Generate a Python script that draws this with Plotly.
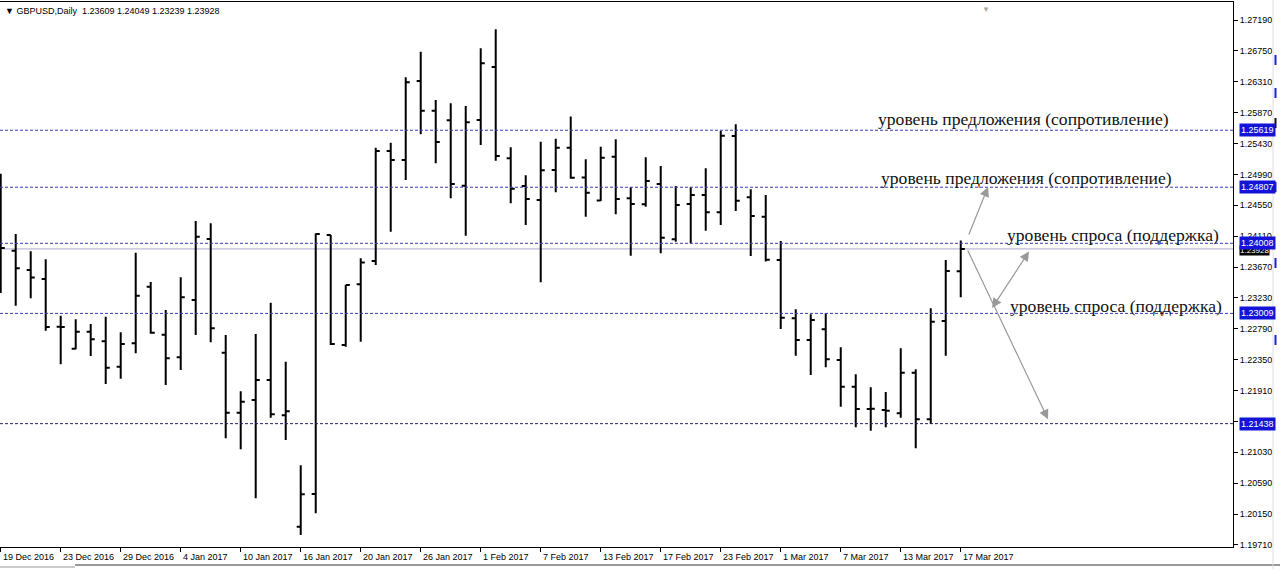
import plotly.graph_objects as go

# ---------------- data ----------------
bar_dates = [
    "2016-12-19", "2016-12-20", "2016-12-21", "2016-12-22", "2016-12-23",
    "2016-12-26", "2016-12-27", "2016-12-28", "2016-12-29", "2016-12-30",
    "2017-01-02", "2017-01-03", "2017-01-04", "2017-01-05", "2017-01-06",
    "2017-01-09", "2017-01-10", "2017-01-11", "2017-01-12", "2017-01-13",
    "2017-01-16", "2017-01-17", "2017-01-18", "2017-01-19", "2017-01-20",
    "2017-01-23", "2017-01-24", "2017-01-25", "2017-01-26", "2017-01-27",
    "2017-01-30", "2017-01-31", "2017-02-01", "2017-02-02", "2017-02-03",
    "2017-02-06", "2017-02-07", "2017-02-08", "2017-02-09", "2017-02-10",
    "2017-02-13", "2017-02-14", "2017-02-15", "2017-02-16", "2017-02-17",
    "2017-02-20", "2017-02-21", "2017-02-22", "2017-02-23", "2017-02-24",
    "2017-02-27", "2017-02-28", "2017-03-01", "2017-03-02", "2017-03-03",
    "2017-03-06", "2017-03-07", "2017-03-08", "2017-03-09", "2017-03-10",
    "2017-03-13", "2017-03-14", "2017-03-15", "2017-03-16", "2017-03-17",
]

open_ = [
    1.24800, 1.23903, 1.23628, 1.23499, 1.22820, 1.22505, 1.22748, 1.22612, 1.22250, 1.22583,
    1.23390, 1.22706, 1.22384, 1.23200, 1.24069, 1.22449, 1.21594, 1.21775, 1.22060, 1.21557,
    1.19970, 1.20436, 1.24126, 1.22559, 1.23424, 1.23756, 1.25323, 1.25195, 1.26321, 1.25898,
    1.25761, 1.24829, 1.25765, 1.26520, 1.25219, 1.24825, 1.24625, 1.25053, 1.25370, 1.24946,
    1.24618, 1.25242, 1.24649, 1.24564, 1.24853, 1.24065, 1.24568, 1.24696, 1.24450, 1.25537,
    1.24664, 1.24387, 1.23770, 1.22939, 1.22630, 1.22783, 1.22345, 1.21965, 1.21647, 1.21633,
    1.21586, 1.22164, 1.21500, 1.22901, 1.23609,
]
high = [
    1.25000, 1.24141, 1.23894, 1.23780, 1.22976, 1.22925, 1.22858, 1.22962, 1.22740, 1.23874,
    1.23457, 1.23058, 1.23524, 1.24326, 1.24293, 1.22701, 1.21899, 1.22716, 1.23162, 1.22321,
    1.20845, 1.24148, 1.24126, 1.23414, 1.23794, 1.25370, 1.25442, 1.26373, 1.26738, 1.26050,
    1.26003, 1.25965, 1.26787, 1.27058, 1.25376, 1.24977, 1.25456, 1.25499, 1.25815, 1.25205,
    1.25385, 1.25490, 1.24806, 1.25234, 1.25110, 1.24825, 1.24806, 1.25077, 1.25613, 1.25704,
    1.24778, 1.24696, 1.24041, 1.23068, 1.22996, 1.23011, 1.22526, 1.22141, 1.21956, 1.21889,
    1.22512, 1.22212, 1.23082, 1.23770, 1.24049,
]
low = [
    1.23300, 1.23119, 1.23224, 1.22763, 1.22284, 1.22498, 1.22402, 1.22003, 1.22079, 1.22441,
    1.22720, 1.21989, 1.22203, 1.22701, 1.22597, 1.21229, 1.21073, 1.20374, 1.21523, 1.21205,
    1.19851, 1.20161, 1.22559, 1.22535, 1.22606, 1.23699, 1.24173, 1.24910, 1.25561, 1.25148,
    1.24649, 1.24116, 1.25409, 1.25185, 1.24578, 1.24269, 1.23452, 1.24735, 1.24929, 1.24387,
    1.24611, 1.24421, 1.23831, 1.24530, 1.23866, 1.24031, 1.24008, 1.24188, 1.24269, 1.24468,
    1.23827, 1.23749, 1.22787, 1.22406, 1.22131, 1.22241, 1.21680, 1.21386, 1.21338, 1.21386,
    1.21523, 1.21087, 1.21433, 1.22406, 1.23239,
]
close = [
    1.23941, 1.23652, 1.23521, 1.22815, 1.22815, 1.22748, 1.22640, 1.22235, 1.22573, 1.23261,
    1.22734, 1.22369, 1.23239, 1.24102, 1.22797, 1.21594, 1.21751, 1.22060, 1.21571, 1.21614,
    1.20431, 1.24141, 1.22573, 1.23414, 1.23734, 1.25323, 1.25195, 1.26302, 1.25898, 1.25452,
    1.24853, 1.25732, 1.26573, 1.25252, 1.24786, 1.24639, 1.25048, 1.25370, 1.24943, 1.24729,
    1.25228, 1.24639, 1.24568, 1.24896, 1.24088, 1.24554, 1.24696, 1.24450, 1.25541, 1.24615,
    1.24397, 1.23774, 1.22948, 1.22630, 1.22915, 1.22355, 1.21965, 1.21647, 1.21650, 1.21622,
    1.22164, 1.21500, 1.22891, 1.23613, 1.23928,
]

x_tick_pos = [0, 4, 8, 12, 16, 20, 24, 28, 32, 36, 40, 44, 48, 52, 56, 60, 64]
x_tick_labels = [
    "19 Dec 2016", "23 Dec 2016", "29 Dec 2016", "4 Jan 2017", "10 Jan 2017",
    "16 Jan 2017", "20 Jan 2017", "26 Jan 2017", "1 Feb 2017", "7 Feb 2017",
    "13 Feb 2017", "17 Feb 2017", "23 Feb 2017", "1 Mar 2017", "7 Mar 2017",
    "13 Mar 2017", "17 Mar 2017",
]
y_tick_vals = [1.27190, 1.26750, 1.26310, 1.25870, 1.25430, 1.24990, 1.24550, 1.24110,
               1.23670, 1.23230, 1.22790, 1.22350, 1.21910, 1.21470, 1.21030, 1.20590,
               1.20150, 1.19710]
y_tick_text = ["%.5f" % v for v in y_tick_vals]

level_prices = [1.25619, 1.24807, 1.24008, 1.23009, 1.21438]
level_colors = ["#3a3ab4", "#3a3ab4", "#3a3ab4", "#3a3ab4", "#202068"]
last_price = 1.23928

level_texts = ["уровень предложения (сопротивление)", "уровень предложения (сопротивление)",
               "уровень спроса (поддержка)", "уровень спроса (поддержка)"]
level_text_x = [58.35, 58.55, 66.95, 67.15]
level_text_y = [1.25779, 1.24939, 1.24126, 1.23114]

# arrows: (tail_x, tail_y, head_x, head_y, both_ends)
arrows = [
    (64.5, 1.24112, 65.82, 1.24810, False),
    (64.42, 1.23927, 69.82, 1.21500, False),
    (68.62, 1.23913, 66.09, 1.23086, True),
]

title_text = "GBPUSD,Daily  1.23609 1.24049 1.23239 1.23928"

# ---------------- figure ----------------
x_idx = list(range(len(bar_dates)))
PW = 1233.0   # plot width in px
PH = 545.0    # plot height in px

fig = go.Figure()
fig.add_trace(go.Ohlc(
    x=x_idx, open=open_, high=high, low=low, close=close,
    increasing=dict(line=dict(color="black", width=2)),
    decreasing=dict(line=dict(color="black", width=2)),
    tickwidth=0.27, hoverinfo="skip", showlegend=False,
))

shapes = []
# current price line
shapes.append(dict(type="line", xref="paper", x0=0, x1=1, yref="y", y0=last_price, y1=last_price,
                   line=dict(color="#aaaad0", width=1), layer="below"))
for p, c in zip(level_prices, level_colors):
    shapes.append(dict(type="line", xref="paper", x0=0, x1=1, yref="y", y0=p, y1=p,
                       line=dict(color=c, width=1, dash="3px,2px"), layer="above"))
# bottom tab bar & right strip decorations (window chrome)
shapes.append(dict(type="line", xref="paper", yref="paper", x0=75 / PW, x1=1280 / PW,
                   y0=-18 / PH, y1=-18 / PH, line=dict(color="#333333", width=1)))
shapes.append(dict(type="line", xref="paper", yref="paper", x0=0, x1=75 / PW,
                   y0=-20 / PH, y1=-20 / PH, line=dict(color="#999999", width=1)))
shapes.append(dict(type="line", xref="paper", yref="paper", x0=1273 / PW, x1=1273 / PW,
                   y0=-22 / PH, y1=1 + 2 / PH, line=dict(color="#dddddd", width=1)))
for (a, b, col) in [(55, 65, "#2020d0"), (88, 98, "#2020d0"), (118, 128, "#111111"),
                    (182, 192, "#2020d0"), (258, 268, "#2020d0"), (335, 345, "#2020d0")]:
    shapes.append(dict(type="line", xref="paper", yref="paper", x0=1275.5 / PW, x1=1275.5 / PW,
                       y0=(547 - b) / PH, y1=(547 - a) / PH, line=dict(color=col, width=2)))

annotations = []
# title
annotations.append(dict(text="▼ " + title_text, xref="paper", yref="paper", x=0, y=1,
                        xanchor="left", yanchor="top", xshift=3, yshift=-2, showarrow=False,
                        font=dict(family="Liberation Sans", size=9, color="black")))
# chart shift marker
annotations.append(dict(text="▼", xref="paper", yref="paper", x=986 / PW, y=1,
                        xanchor="center", yanchor="top", yshift=1, showarrow=False,
                        font=dict(size=8, color="#aaaaaa")))
# x labels (left-aligned to ticks like MT4)
for pos, lab in zip(x_tick_pos, x_tick_labels):
    annotations.append(dict(text=lab, x=pos, xref="x", y=0, yref="paper", xanchor="left",
                            yanchor="top", xshift=0, yshift=-3, showarrow=False,
                            font=dict(family="Liberation Sans", size=9, color="black")))
# level texts
for t, tx, ty in zip(level_texts, level_text_x, level_text_y):
    annotations.append(dict(text=t, x=tx, y=ty, xref="x", yref="y", xanchor="left",
                            yanchor="middle", showarrow=False,
                            font=dict(family="Liberation Serif", size=17.6, color="#111111")))
# arrows
for tx, ty, hx, hy, both in arrows:
    annotations.append(dict(text="", x=hx, y=hy, ax=tx, ay=ty, xref="x", yref="y",
                            axref="x", ayref="y", showarrow=True, arrowhead=2,
                            arrowside="end+start" if both else "end", arrowsize=1.6,
                            arrowwidth=1.2, arrowcolor="#999999", standoff=0, startstandoff=0))
# price labels on axis (current price first, level labels drawn over it as in MT4)
annotations.append(dict(text="%.5f" % last_price, xref="paper", yref="y", x=1, y=last_price,
                        xanchor="left", yanchor="middle", xshift=6, yshift=-2, showarrow=False,
                        bgcolor="#000000", borderpad=0,
                        font=dict(family="Liberation Sans", size=8, color="white")))
for p in level_prices:
    annotations.append(dict(text="%.5f" % p, xref="paper", yref="y", x=1, y=p,
                            xanchor="left", yanchor="middle", xshift=6, showarrow=False,
                            bgcolor="#1414d8", borderpad=1,
                            font=dict(family="Liberation Sans", size=9, color="white")))

fig.update_layout(
    width=1280, height=571,
    margin=dict(l=0, r=47, t=2, b=24),
    paper_bgcolor="white", plot_bgcolor="white",
    shapes=shapes, annotations=annotations,
    showlegend=False,
    xaxis=dict(range=[-0.047, 82.15], showgrid=False, zeroline=False,
               tickmode="array", tickvals=x_tick_pos, ticktext=[""] * len(x_tick_pos),
               ticks="outside", ticklen=4, tickcolor="black",
               showline=True, linecolor="black", linewidth=1, mirror=True,
               rangeslider=dict(visible=False), fixedrange=True),
    yaxis=dict(range=[1.196802, 1.274465], side="right", showgrid=False, zeroline=False,
               tickmode="array", tickvals=y_tick_vals, ticktext=y_tick_text,
               ticks="outside", ticklen=4, tickcolor="black",
               tickfont=dict(family="Liberation Sans", size=9, color="black"),
               showline=True, linecolor="black", linewidth=1, mirror=True, fixedrange=True),
)

fig.write_html("out.html", config={"displayModeBar": False},
               post_script="document.body.style.margin='0';document.body.style.overflow='hidden';")
